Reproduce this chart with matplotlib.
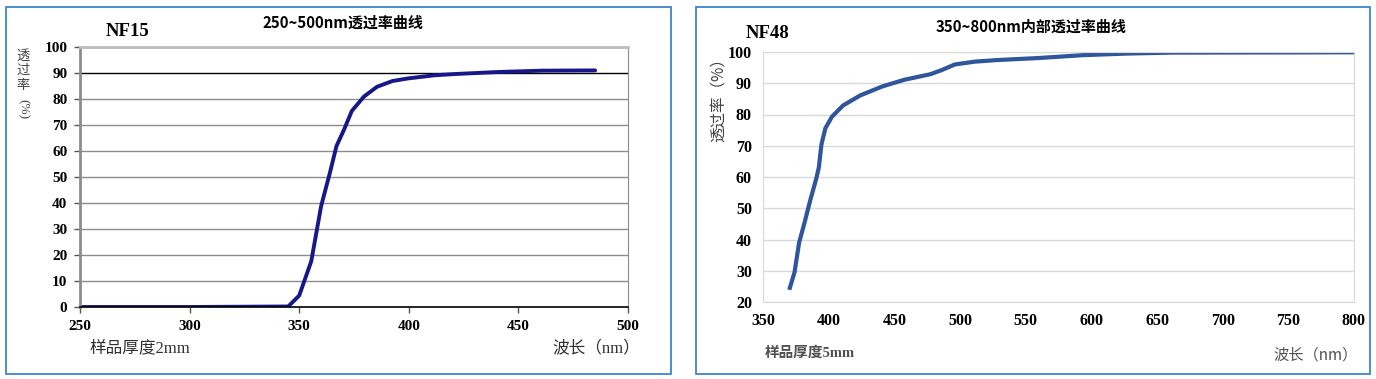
import matplotlib
matplotlib.use("Agg")
import matplotlib.pyplot as plt
from matplotlib.patches import Rectangle

CJK = ['Noto Sans CJK SC', 'DejaVu Sans']
SERIF = ['Liberation Serif', 'Noto Sans CJK SC']
plt.rcParams['font.family'] = CJK

# ---- data: NF15 (2 mm) ----
nf15_wl = [250, 300, 345, 350, 355.5, 360, 364, 367, 370.5, 374, 379.5, 385.5,
           392.5, 399.5, 411.5, 421, 441, 461, 485]
nf15_t = [0, 0, 0.2, 4.4, 17.6, 38.8, 51.6, 61.9, 68.3, 75.4, 80.9, 84.7,
          86.9, 87.9, 89.1, 89.6, 90.4, 90.9, 91.0]

# ---- data: NF48 (5 mm) ----
nf48_wl = [370, 374, 377.5, 381.5, 386, 390.5, 392.5, 394.5, 397.5, 402.5, 411,
           424, 441, 457.5, 477.5, 486, 496, 511, 527.5, 561, 594, 627.5, 661, 800]
nf48_t = [23.9, 29.5, 39.0, 45.2, 52.6, 59.4, 63.0, 70.4, 75.6, 79.3, 82.9,
          86.1, 89.0, 91.1, 92.9, 94.2, 96.0, 96.9, 97.4, 98.1, 99.0, 99.5, 99.8, 99.9]

x1_ticks = [250, 300, 350, 400, 450, 500]
y1_ticks = list(range(0, 101, 10))
x2_ticks = list(range(350, 801, 50))
y2_ticks = list(range(20, 101, 10))

W, H = 1376, 379
fig = plt.figure(figsize=(W / 100, H / 100), dpi=100)

def fx(px):
    return px / W

def fy(py):
    return 1 - py / H

# panel frames
for (x0, x1) in [(6, 671), (696, 1370)]:
    fig.patches.append(Rectangle((fx(x0), fy(374)), fx(x1 - x0), (374 - 7) / H,
                                 transform=fig.transFigure, fill=False,
                                 edgecolor='#2E7BC4', linewidth=1.2))

# ---------------- left chart ----------------
ax1 = fig.add_axes([fx(80), fy(307), fx(628 - 80), (307 - 47) / H])
ax1.plot(nf15_wl, nf15_t, color='#16188A', linewidth=2.8, solid_capstyle='round')
ax1.set_xlim(250, 500)
ax1.set_ylim(0, 100)
ax1.set_xticks(x1_ticks)
ax1.set_yticks(y1_ticks)
for yv in y1_ticks[1:]:
    ax1.axhline(yv, color='black' if yv == 90 else '#8c8c8c', linewidth=1.0, zorder=0)
ax1.spines['left'].set_color('#8c8c8c')
ax1.spines['left'].set_linewidth(2)
ax1.spines['top'].set_color('#bdbdbd')
ax1.spines['top'].set_linewidth(2)
ax1.spines['right'].set_color('#8c8c8c')
ax1.spines['bottom'].set_color('black')
ax1.spines['bottom'].set_linewidth(1.2)
ax1.tick_params(axis='both', direction='out', length=4, width=1, color='#555555',
                pad=5)
for lab in ax1.get_xticklabels() + ax1.get_yticklabels():
    lab.set_fontfamily(SERIF)
    lab.set_fontweight('bold')
    lab.set_fontsize(11)

fig.text(fx(128), fy(31), 'NF15', family=SERIF, fontweight='bold', fontsize=13.5,
         ha='center', va='center')
fig.text(fx(343), fy(23), '250~500nm透过率曲线', fontweight='bold', fontsize=10.8,
         ha='center', va='center')
for i, ch in enumerate('透过率'):
    fig.text(fx(23), fy(56 + i * 14.5), ch, fontsize=9.5, color='#404040',
             ha='center', va='center')
fig.text(fx(23), fy(109), '(%)', family=SERIF, fontsize=9.5, color='#404040',
         rotation=270, ha='center', va='center')
fig.text(fx(90), fy(348), '样品厚度2mm', family=SERIF, fontsize=12, color='#303030',
         ha='left', va='center')
fig.text(fx(640), fy(348), '波长（nm）', family=SERIF, fontsize=12, color='#303030',
         ha='right', va='center')

# ---------------- right chart ----------------
ax2 = fig.add_axes([fx(763), fy(302), fx(1354 - 763), (302 - 52) / H])
ax2.plot(nf48_wl, nf48_t, color='#2F559C', linewidth=3.0, solid_capstyle='butt',
         solid_joinstyle='round')
ax2.set_xlim(350, 800)
ax2.set_ylim(20, 100)
ax2.set_xticks(x2_ticks)
ax2.set_yticks(y2_ticks)
ax2.grid(axis='y', color='#d9d9d9', linewidth=1.0)
ax2.set_axisbelow(True)
for s in ax2.spines.values():
    s.set_color('#d9d9d9')
ax2.tick_params(axis='both', length=0, pad=8)
for lab in ax2.get_xticklabels() + ax2.get_yticklabels():
    lab.set_fontfamily(SERIF)
    lab.set_fontweight('bold')
    lab.set_fontsize(11.5)

fig.text(fx(768), fy(33), 'NF48', family=SERIF, fontweight='bold', fontsize=13.5,
         ha='center', va='center')
fig.text(fx(1031), fy(27), '350~800nm内部透过率曲线', fontweight='bold', fontsize=10.8,
         ha='center', va='center')
fig.text(fx(718), fy(96), '透过率（%）', fontsize=11.2, color='#404040', rotation=90,
         ha='center', va='center')
fig.text(fx(765), fy(353), '样品厚度5mm', family=SERIF, fontsize=10.5, color='#505050',
         ha='left', va='center', fontweight='bold')
fig.text(fx(1358), fy(355), '波长（nm）', family=CJK, fontsize=11, color='#505050',
         ha='right', va='center')

fig.savefig('out.png', dpi=100)
